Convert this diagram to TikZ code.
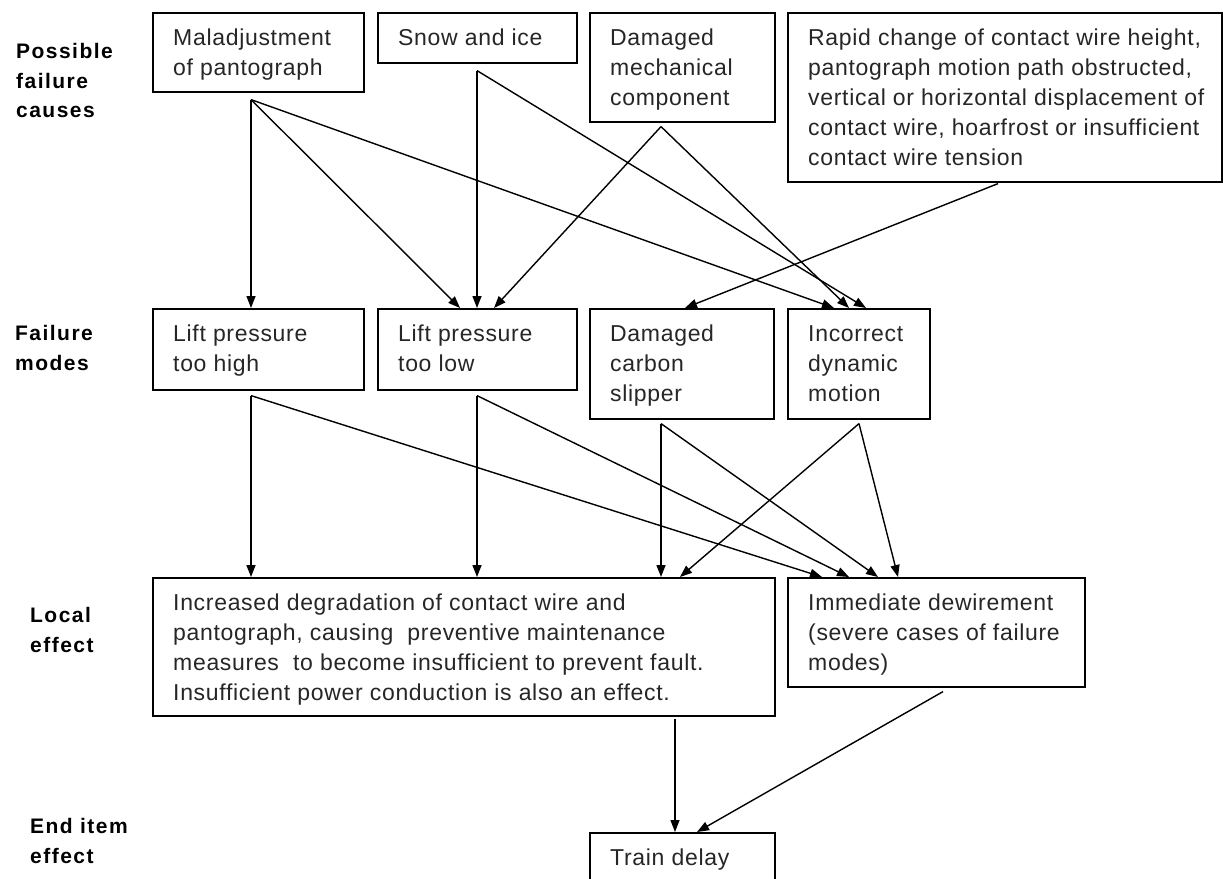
\documentclass[tikz,border=0pt]{standalone}
\usepackage{fontspec}
\setmainfont{Liberation Sans}
\newfontfamily\boxfont{Liberation Sans}[LetterSpace=3]
\newfontfamily\labfont{Liberation Sans}[LetterSpace=7]
\usetikzlibrary{arrows.meta,calc}
\begin{document}
\begin{tikzpicture}[x=1pt,y=-1pt,
  box/.style={draw,line width=1.6pt,rectangle,anchor=north west,inner sep=0pt},
  txt/.style={anchor=north west,inner sep=0pt,align=left,text=black!85,font=\boxfont\fontsize{23}{30}\selectfont},
  lab/.style={anchor=north west,inner sep=0pt,align=left,font=\labfont\bfseries\fontsize{21}{29.7}\selectfont},
  arr/.style={line width=1.4pt,-{Triangle[length=12pt,width=9pt]}}]
\useasboundingbox (0,0) rectangle (1223,878);
\fill[white] (0,0) rectangle (1223,878);
\clip (0,0) rectangle (1223,878);

% row labels
\node[lab] (lab1) at (16,43) {Possible\\failure\\causes};
\node[lab] (lab2) at (15,325) {Failure\\modes};
\node[lab] (lab3) at (30,607) {Local\\effect};
\node[lab] (lab4) at (30,818) {End item\\effect};

% boxes
\node[box,minimum width=211pt,minimum height=79pt]  (mal)  at (152,12) {};
\node[box,minimum width=199pt,minimum height=50pt]  (snow) at (377,12) {};
\node[box,minimum width=185pt,minimum height=109pt] (dmc)  at (589,12) {};
\node[box,minimum width=434pt,minimum height=169pt] (rap)  at (787,12) {};
\node[box,minimum width=211pt,minimum height=81pt]  (lh)   at (152,308) {};
\node[box,minimum width=199pt,minimum height=81pt]  (ll)   at (377,308) {};
\node[box,minimum width=184pt,minimum height=110pt] (dcs)  at (589,308) {};
\node[box,minimum width=142pt,minimum height=110pt] (idm)  at (787,308) {};
\node[box,minimum width=622pt,minimum height=138pt] (loc)  at (152,577) {};
\node[box,minimum width=297pt,minimum height=109pt] (imm)  at (787,577) {};
\node[box,minimum width=185pt,minimum height=80pt]  (trd)  at (589,832) {};

% box texts
\node[txt] (tmal)  at ($(mal.north west)+(21,17)$) {Maladjustment\\of pantograph};
\node[txt] (tsnow) at ($(snow.north west)+(21,17)$) {Snow and ice};
\node[txt] (tdmc)  at ($(dmc.north west)+(21,17)$) {Damaged\\mechanical\\component};
\node[txt] (trap)  at ($(rap.north west)+(21,17)$) {Rapid change of contact wire height,\\pantograph motion path obstructed,\\vertical or horizontal displacement of\\contact wire, hoarfrost or insufficient\\contact wire tension};
\node[txt] (tlh)   at ($(lh.north west)+(21,17)$) {Lift pressure\\too high};
\node[txt] (tll)   at ($(ll.north west)+(21,17)$) {Lift pressure\\too low};
\node[txt] (tdcs)  at ($(dcs.north west)+(21,17)$) {Damaged\\carbon\\slipper};
\node[txt] (tidm)  at ($(idm.north west)+(21,17)$) {Incorrect\\dynamic\\motion};
\node[txt] (tloc)  at ($(loc.north west)+(21,17)$) {Increased degradation of contact wire and\\pantograph, causing\ \ preventive maintenance\\measures\ \ to become insufficient to prevent fault.\\Insufficient power conduction is also an effect.};
\node[txt] (timm)  at ($(imm.north west)+(21,17)$) {Immediate dewirement\\(severe cases of failure\\modes)};
\node[txt] (ttrd)  at ($(trd.north west)+(21,17)$) {Train delay};

% causes -> failure modes
\draw[arr] ($(mal.south west)+(99,7)$) -- ($(lh.north west)+(99,0)$);
\draw[arr] ($(mal.south west)+(99,7)$) -- ($(ll.north west)+(83,0)$);
\draw[arr] ($(mal.south west)+(99,7)$) -- ($(idm.north west)+(47,0)$);
\draw[arr] ($(snow.south west)+(100,7)$) -- ($(ll.north west)+(100,0)$);
\draw[arr] ($(snow.south west)+(100,7)$) -- ($(idm.north west)+(79,0)$);
\draw[arr] ($(dmc.south west)+(72,4)$) -- ($(ll.north west)+(117,0)$);
\draw[arr] ($(dmc.south west)+(72,4)$) -- ($(idm.north west)+(62,0)$);
\draw[arr] ($(rap.south west)+(211,1)$) -- ($(dcs.north west)+(96,0)$);

% failure modes -> local effects
\draw[arr] ($(lh.south west)+(99,5)$) -- ($(loc.north west)+(99,0)$);
\draw[arr] ($(lh.south west)+(99,5)$) -- ($(imm.north west)+(35,0)$);
\draw[arr] ($(ll.south west)+(100,5)$) -- ($(loc.north west)+(325,0)$);
\draw[arr] ($(ll.south west)+(100,5)$) -- ($(imm.north west)+(62,0)$);
\draw[arr] ($(dcs.south west)+(72,4)$) -- ($(loc.north west)+(509,0)$);
\draw[arr] ($(dcs.south west)+(72,4)$) -- ($(imm.north west)+(91,0)$);
\draw[arr] ($(idm.south west)+(72,4)$) -- ($(loc.north west)+(528,0)$);
\draw[arr] ($(idm.south west)+(72,4)$) -- ($(imm.north west)+(111,0)$);

% local effects -> end item effect
\draw[arr] ($(loc.south west)+(523,2)$) -- ($(trd.north west)+(86,0)$);
\draw[arr] ($(imm.south west)+(156,4)$) -- ($(trd.north west)+(108,0)$);
\end{tikzpicture}
\end{document}
